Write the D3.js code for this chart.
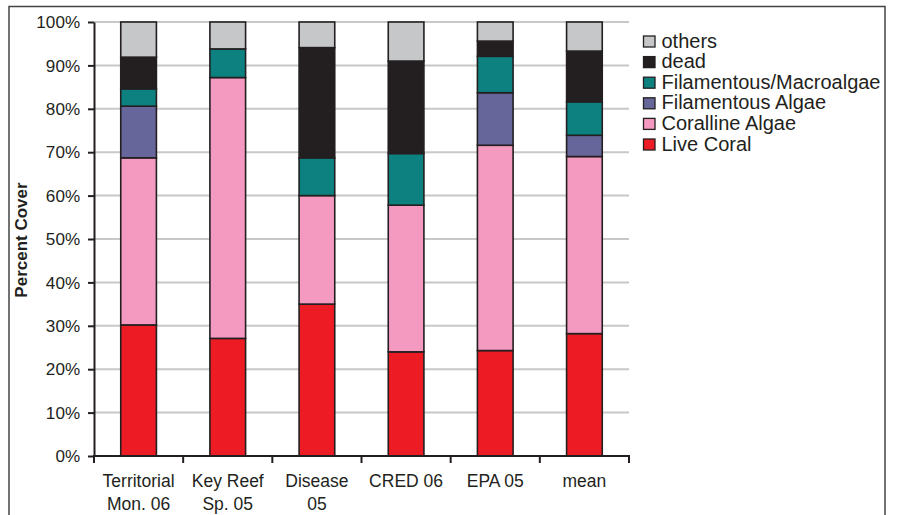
<!DOCTYPE html>
<html><head><meta charset="utf-8">
<script src="https://cdn.jsdelivr.net/npm/d3@7"></script>
<style>body{margin:0;background:#fff}svg{display:block}text{font-family:"Liberation Sans",Arial,sans-serif;fill:#231f20}</style>
</head><body>
<script>
const categories = ["Territorial\nMon. 06","Key Reef\nSp. 05","Disease\n05","CRED 06","EPA 05","mean"];
const liveCoral      = [30.2, 27.1, 35.0, 24.0, 24.3, 28.2];
const corallineAlgae = [38.5, 60.1, 25.0, 33.8, 47.3, 40.8];
const filamentousAlgae = [11.9, 0, 0, 0, 12.1, 4.9];
const filMacroalgae  = [4.0, 6.6, 8.7, 11.9, 8.4, 7.7];
const dead           = [7.3, 0, 25.4, 21.3, 3.5, 11.7];
const others         = [8.1, 6.2, 5.9, 9.0, 4.4, 6.7];
const seriesNames = ["Live Coral","Coralline Algae","Filamentous Algae","Filamentous/Macroalgae","dead","others"];
const seriesColors = ["#ed1c24","#f49ac1","#67669a","#0d8080","#231f20","#c6c7c9"];
const yTicks = [0,10,20,30,40,50,60,70,80,90,100];

const W=897,H=515;
const svg=d3.select("body").append("svg").attr("width",W).attr("height",H);
// outer frame
svg.append("rect").attr("x",9).attr("y",6.5).attr("width",876).attr("height",H+20)
  .attr("fill","none").attr("stroke","#444").attr("stroke-width",1.5);

const x0=94,x1=629,yTop=22,yBot=456;
const x=d3.scaleBand().domain(d3.range(categories.length)).range([x0,x1]).paddingInner(0.6).paddingOuter(0.3);
const y=d3.scaleLinear().domain([0,100]).range([yBot,yTop]);

// grid
svg.append("g").selectAll("line").data(yTicks.filter(d=>d>0)).join("line")
  .attr("x1",x0).attr("x2",x1).attr("y1",d=>y(d)).attr("y2",d=>y(d))
  .attr("stroke","#c8c8c8").attr("stroke-width",2);

// stacked bars
const rows=categories.map((c,i)=>({i,"Live Coral":liveCoral[i],"Coralline Algae":corallineAlgae[i],"Filamentous Algae":filamentousAlgae[i],"Filamentous/Macroalgae":filMacroalgae[i],"dead":dead[i],"others":others[i]}));
const stack=d3.stack().keys(seriesNames)(rows);
stack.forEach((s,k)=>{
  svg.append("g").selectAll("rect").data(s.filter(d=>d[1]-d[0]>0)).join("rect")
    .attr("x",d=>x(d.data.i)).attr("width",x.bandwidth())
    .attr("y",d=>y(d[1])).attr("height",d=>y(d[0])-y(d[1]))
    .attr("fill",seriesColors[k]).attr("stroke","#231f20").attr("stroke-width",1.6);
});

// y axis
const ya=svg.append("g").attr("transform",`translate(${x0},0)`)
  .call(d3.axisLeft(y).tickValues(yTicks).tickFormat(d=>d+"%").tickSize(6).tickSizeOuter(0));
ya.attr("font-size",null).attr("font-family",null);
ya.select(".domain").attr("stroke","#231f20").attr("stroke-width",2);
ya.selectAll(".tick line").attr("stroke","#231f20").attr("stroke-width",2);
ya.selectAll(".tick text").attr("font-size",16).attr("x",-13).attr("dy","0.36em")
  .attr("transform","scale(1.07,1)").attr("fill","#231f20");

// x axis
const xa=svg.append("g").attr("transform",`translate(0,${yBot})`);
xa.append("line").attr("x1",x0-1).attr("x2",x1+1).attr("stroke","#231f20").attr("stroke-width",2);
const bounds=d3.range(categories.length+1).map(i=>x0+i*(x1-x0)/categories.length);
xa.selectAll("line.t").data(bounds).join("line").attr("class","t")
  .attr("x1",d=>d).attr("x2",d=>d).attr("y1",0).attr("y2",7).attr("stroke","#231f20").attr("stroke-width",2);
categories.forEach((c,i)=>{
  const cx=x(i)+x.bandwidth()/2;
  const t=xa.append("text").attr("text-anchor","middle").attr("font-size",17.5)
    .attr("x",cx).attr("y",31);
  c.split("\n").forEach((ln,j)=>t.append("tspan").attr("x",cx).attr("dy",j?22.5:0).text(ln));
});

// y title
svg.append("text").attr("transform",`translate(27,${(yTop+yBot)/2+1}) rotate(-90)`)
  .attr("text-anchor","middle").attr("font-size",17).attr("font-weight","bold").text("Percent Cover");

// legend
const legendOrder=seriesNames.map((n,i)=>i).reverse();
const lg=svg.append("g").attr("transform","translate(643,36)");
legendOrder.forEach((k,j)=>{
  const g=lg.append("g").attr("transform",`translate(0,${j*20.6})`);
  g.append("rect").attr("x",0.5).attr("y",0).attr("width",11.5).attr("height",11)
    .attr("fill",seriesColors[k]).attr("stroke","#231f20").attr("stroke-width",1.3);
  g.append("text").attr("x",18.5).attr("y",11.5).attr("font-size",20).text(seriesNames[k]);
});
</script>
</body></html>
